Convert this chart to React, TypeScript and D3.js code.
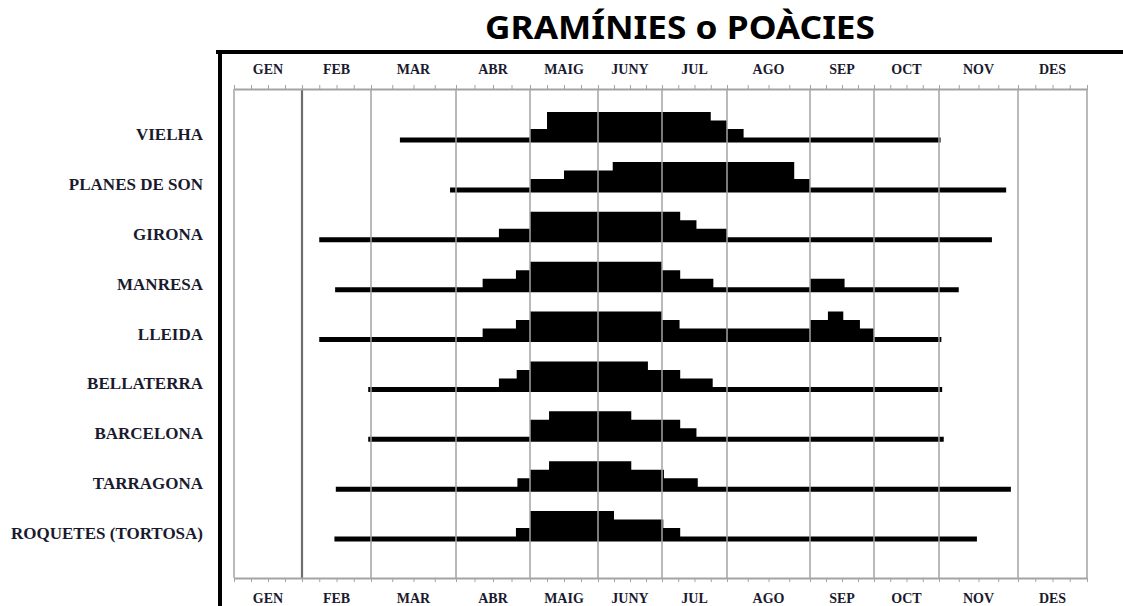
import { useEffect, useRef } from "react"
import * as d3 from "d3"

// month labels (catalan)
const months = ["GEN", "FEB", "MAR", "ABR", "MAIG", "JUNY", "JUL", "AGO", "SEP", "OCT", "NOV", "DES"]

const stations = [
  "VIELHA",
  "PLANES DE SON",
  "GIRONA",
  "MANRESA",
  "LLEIDA",
  "BELLATERRA",
  "BARCELONA",
  "TARRAGONA",
  "ROQUETES (TORTOSA)",
]

// breakpoints: [month position, intensity level 0-3], level holds until next point
const vielha = [[2.34, 0], [4.0, 1], [4.25, 3], [6.75, 2], [7.0, 1], [7.2, 0], [10.02, 0]]
const planesDeSon = [[2.93, 0], [4.0, 1], [4.5, 2], [5.23, 3], [7.81, 1], [8.0, 0], [10.85, 0]]
const girona = [[1.25, 0], [3.58, 1], [4.0, 3], [6.28, 2], [6.53, 1], [7.0, 0], [10.67, 0]]
const manresa = [[1.48, 0], [3.36, 1], [3.81, 2], [4.0, 3], [6.0, 2], [6.28, 1], [6.79, 0], [8.0, 1], [8.54, 0], [10.25, 0]]
const lleida = [[1.25, 0], [3.36, 1], [3.81, 2], [4.0, 3], [6.0, 2], [6.27, 1], [8.0, 2], [8.28, 3], [8.52, 2], [8.78, 1], [9.0, 0], [10.03, 0]]
const bellaterra = [[1.96, 0], [3.58, 1], [3.82, 2], [4.0, 3], [5.78, 2], [6.28, 1], [6.78, 0], [10.04, 0]]
const barcelona = [[1.96, 0], [4.0, 2], [4.28, 3], [5.52, 2], [6.28, 1], [6.53, 0], [10.06, 0]]
const tarragona = [[1.49, 0], [3.83, 1], [4.0, 2], [4.28, 3], [5.52, 2], [6.03, 1], [6.55, 0], [10.91, 0]]
const roquetes = [[1.47, 0], [3.81, 1], [4.0, 3], [5.25, 2], [6.02, 1], [6.28, 0], [10.48, 0]]

const series = [vielha, planesDeSon, girona, manresa, lleida, bellaterra, barcelona, tarragona, roquetes]

export default function App() {
  const svgRef = useRef<SVGSVGElement>(null)

  useEffect(() => {
    if (!svgRef.current) return
    const svg = d3.select(svgRef.current)
    svg.selectAll("*").remove()

    const width = 1123
    const height = 606
    const axisTopY = 89
    const axisBottomY = 578

    // hand drawn month widths are irregular, so a piecewise scale
    const x = d3
      .scaleLinear()
      .domain(d3.range(13))
      .range([234, 302, 371, 456, 530, 598, 662, 727, 810, 874, 939, 1018, 1087])

    const y = d3.scalePoint().domain(stations).range([140, 539])

    // level -> height above row baseline
    const h = d3.scaleLinear().domain([0, 3]).range([2.5, 28])

    svg.append("rect").attr("width", width).attr("height", height).attr("fill", "#fff")

    // title
    svg
      .append("text")
      .attr("x", 680)
      .attr("y", 39)
      .attr("text-anchor", "middle")
      .attr("font-family", "'Noto Sans', sans-serif")
      .attr("font-weight", "bold")
      .attr("font-size", 33)
      .attr("textLength", 390)
      .attr("lengthAdjust", "spacingAndGlyphs")
      .attr("fill", "#000")
      .text("GRAMÍNIES o POÀCIES")

    // frame
    svg.append("line").attr("x1", 216).attr("x2", width).attr("y1", 52).attr("y2", 52).attr("stroke", "#000").attr("stroke-width", 4)
    svg.append("line").attr("x1", 220).attr("x2", 220).attr("y1", 50).attr("y2", height).attr("stroke", "#000").attr("stroke-width", 4)

    // station bars
    series.forEach((pts, i) => {
      const cy = y(stations[i]) as number
      const area = d3
        .area<number[]>()
        .x((d) => x(d[0]))
        .y0(cy + 2.5)
        .y1((d) => cy - h(d[1]))
        .curve(d3.curveStepAfter)
      svg.append("path").attr("d", area(pts)).attr("fill", "#000")

      svg
        .append("text")
        .attr("x", 203)
        .attr("y", cy)
        .attr("text-anchor", "end")
        .attr("font-family", "'Liberation Serif', serif")
        .attr("font-weight", "bold")
        .attr("font-size", 17)
        .attr("fill", "#1a1a2e")
        .text(stations[i])
    })

    // month grid lines, drawn over the bars
    d3.range(13).forEach((m) => {
      svg
        .append("line")
        .attr("x1", x(m))
        .attr("x2", x(m))
        .attr("y1", axisTopY)
        .attr("y2", axisBottomY)
        .attr("stroke", m === 1 ? "#6e6e6e" : "#a3a3a3")
        .attr("stroke-width", m === 1 ? 2.2 : 1.5)
    })

    // axes with weekly ticks
    const quarters = d3.range(0, 12.001, 0.25)
    const styleAxis = (g) => {
      g.select(".domain").attr("stroke", "#a3a3a3").attr("stroke-width", 2)
      g.selectAll(".tick line").attr("stroke", "#a3a3a3").attr("stroke-width", 1)
    }
    svg
      .append("g")
      .attr("transform", `translate(0,${axisTopY})`)
      .call(d3.axisTop(x).tickValues(quarters).tickSize(4).tickSizeOuter(0).tickFormat(() => ""))
      .call(styleAxis)
    svg
      .append("g")
      .attr("transform", `translate(0,${axisBottomY})`)
      .call(d3.axisBottom(x).tickValues(quarters).tickSize(4).tickSizeOuter(0).tickFormat(() => ""))
      .call(styleAxis)

    // month labels top and bottom
    ;[74, 603].forEach((ly) => {
      months.forEach((m, i) => {
        svg
          .append("text")
          .attr("x", x(i + 0.5))
          .attr("y", ly)
          .attr("text-anchor", "middle")
          .attr("font-family", "'Liberation Serif', serif")
          .attr("font-weight", "bold")
          .attr("font-size", 14)
          .attr("fill", "#1a1a2e")
          .text(m)
      })
    })
  }, [])

  return (
    <svg
      ref={svgRef}
      width={1123}
      height={606}
      style={{ position: "absolute", left: 0, top: 0 }}
    />
  )
}
